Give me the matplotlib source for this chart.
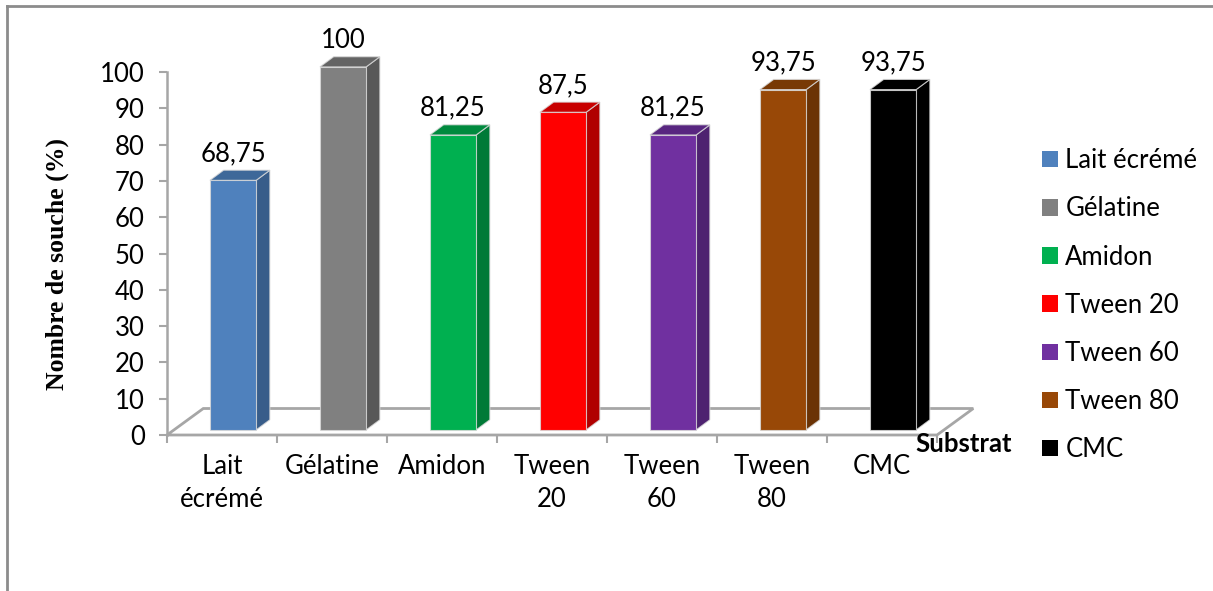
import matplotlib
matplotlib.use("Agg")
import matplotlib.pyplot as plt
from matplotlib.patches import Polygon, Patch
from matplotlib.lines import Line2D

plt.rcParams['font.family'] = ['Lato', 'DejaVu Sans']

# substrats testés et pourcentage de souches positives
substrats = ["Lait écrémé", "Gélatine", "Amidon", "Tween 20", "Tween 60", "Tween 80", "CMC"]
tick_labels = ["Lait\nécrémé", "Gélatine", "Amidon", "Tween\n20", "Tween\n60", "Tween\n80", "CMC"]
pourcentages = [68.75, 100, 81.25, 87.5, 81.25, 93.75, 93.75]

# couleurs : face avant, face latérale, dessus
front_colors = ["#4f81bd", "#808080", "#00b050", "#ff0000", "#7030a0", "#984807", "#000000"]
side_colors = ["#385d8a", "#585858", "#007a37", "#b00000", "#4e2270", "#6b3305", "#000000"]
top_colors = ["#3e6899", "#646464", "#008a3e", "#c80000", "#582680", "#783905", "#000000"]

fs = 18.5

fig = plt.figure(figsize=(12.13, 5.91), dpi=100)
ax = fig.add_axes([167 / 1213, (591 - 435) / 591, 770 / 1213, 363 / 591])
ax.set_xlim(0, 7)
ax.set_ylim(0, 100)

# perspective offsets (data units)
fdx, fdy = 0.33, 7.3      # floor depth
bdx, bdy = 0.125, 2.8     # bar depth
base = 1.4                # bars sit slightly behind the front edge
width = 0.42
shift = 0.1

floor = Polygon([(0, 0), (7, 0), (7 + fdx, fdy), (fdx, fdy)], closed=True,
                facecolor="white", edgecolor="#a6a6a6", lw=2, zorder=1, clip_on=False)
ax.add_patch(floor)

edge = (0.85, 0.85, 0.85, 0.8)
for i, v in enumerate(pourcentages):
    x0 = i + 0.5 + shift - width / 2
    x1 = x0 + width
    top = base + v
    ax.bar(x0, v, width=width, bottom=base, align="edge", color=front_colors[i],
           edgecolor=edge, linewidth=0.8, zorder=3, clip_on=False)
    side = Polygon([(x1, base), (x1 + bdx, base + bdy), (x1 + bdx, top + bdy), (x1, top)],
                   closed=True, facecolor=side_colors[i], edgecolor=edge, lw=0.8,
                   zorder=2.9, clip_on=False)
    lid = Polygon([(x0, top), (x1, top), (x1 + bdx, top + bdy), (x0 + bdx, top + bdy)],
                  closed=True, facecolor=top_colors[i], edgecolor=edge, lw=0.8,
                  zorder=2.9, clip_on=False)
    ax.add_patch(side)
    ax.add_patch(lid)
    label = f"{v:g}".replace(".", ",")
    ax.annotate(label, (i + 0.5 + shift, top + bdy), xytext=(0, 3), textcoords="offset points",
                ha="center", va="bottom", fontsize=fs, color="black", annotation_clip=False)

for s in ["top", "right", "bottom"]:
    ax.spines[s].set_visible(False)
ax.spines["left"].set_color("#a6a6a6")
ax.spines["left"].set_linewidth(1.8)

ax.set_yticks(range(0, 101, 10))
ax.tick_params(axis="y", length=6, width=1.5, color="#a6a6a6", pad=10, labelsize=fs)

ax.set_xticks([i + 0.5 for i in range(7)])
ax.set_xticklabels(tick_labels, fontsize=fs, linespacing=1.4)
ax.tick_params(axis="x", length=0, pad=14)
ax.set_xticks(range(8), minor=True)
ax.tick_params(axis="x", which="minor", length=6, width=1.5, color="#a6a6a6")

ax.set_ylabel("Nombre de souche (%)", family="Liberation Serif", fontweight="bold", fontsize=18.5)
ax.yaxis.label.set_va("center")
ax.yaxis.set_label_coords(-0.143, 0.47)

ax.text(7.24, -2.6, "Substrat", ha="center", va="center", fontsize=fs,
        fontweight="bold", clip_on=False)

handles = [Patch(facecolor=c, edgecolor="none") for c in front_colors]
fig.legend(handles, substrats, loc="upper left", bbox_to_anchor=(1032 / 1213, 1 - 138 / 591),
           frameon=False, fontsize=fs, handlelength=0.6, handleheight=0.6,
           handletextpad=0.3, labelspacing=0.9, borderaxespad=0)

# chart frame (top and left edges)
fig.add_artist(Line2D([7 / 1213, 1], [1 - 6 / 591, 1 - 6 / 591], color="#8c8c8c", lw=2,
                      transform=fig.transFigure))
fig.add_artist(Line2D([7 / 1213, 7 / 1213], [0, 1 - 6 / 591], color="#8c8c8c", lw=2,
                      transform=fig.transFigure))

fig.savefig("out.png", dpi=100)
